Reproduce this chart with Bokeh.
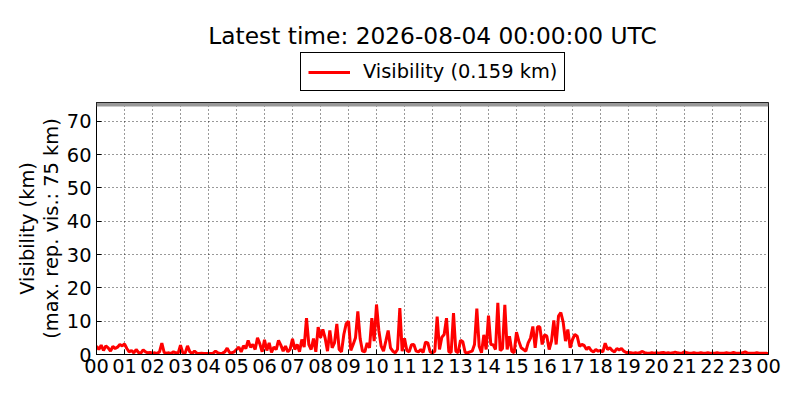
from bokeh.plotting import figure
from bokeh.layouts import column
from bokeh.models import (ColumnDataSource, FixedTicker, Span, Legend, LegendItem,
                          Range1d, Label)
from bokeh.embed import file_html
from bokeh.resources import INLINE

title_text = "Latest time: 2026-08-04 00:00:00 UTC"
series_name = "Visibility (0.159 km)"
y_label = "Visibility (km)\n(max. rep. vis.: 75 km)"
max_rep_vis = 75
x_tick_labels = ["%02d" % (h % 24) for h in range(25)]
y_ticks = [0, 10, 20, 30, 40, 50, 60, 70]

# visibility in km, 5-minute steps, one row per hour (00..23), then last value at 24:00
vis_rows = [
    [2.5, 1.5, 2.8, 1.2, 2.6, 2.0, 1.0, 2.4, 1.8, 2.2, 3.0, 2.6],
    [3.2, 1.8, 0.8, 1.2, 0.5, 1.5, 0.6, 0.4, 1.4, 0.8, 0.5, 0.6],
    [0.4, 0.5, 0.3, 0.8, 3.4, 0.6, 0.4, 0.5, 0.3, 0.8, 0.5, 0.4],
    [2.8, 0.5, 0.4, 2.6, 0.8, 0.3, 1.0, 0.4, 0.3, 0.4, 0.3, 0.3],
    [0.3, 0.3, 0.4, 1.0, 0.5, 0.3, 0.4, 0.8, 1.9, 0.6, 0.5, 0.8],
    [1.5, 2.2, 0.8, 2.6, 1.8, 4.2, 2.2, 3.0, 1.5, 5.0, 3.2, 0.8],
    [4.4, 1.2, 3.5, 0.6, 2.2, 1.5, 4.2, 2.8, 1.0, 2.5, 0.8, 1.6],
    [4.7, 1.5, 3.0, 0.8, 4.5, 2.2, 10.9, 3.0, 1.5, 4.8, 0.8, 8.2],
    [5.0, 7.5, 4.9, 1.0, 7.2, 2.0, 3.5, 9.2, 1.5, 0.8, 6.0, 9.2],
    [10.0, 1.2, 3.0, 5.0, 12.9, 4.7, 1.0, 0.8, 3.5, 2.0, 10.9, 4.0],
    [15.0, 7.2, 2.5, 1.0, 4.0, 7.2, 2.0, 1.0, 0.5, 1.5, 13.9, 1.0],
    [4.9, 1.2, 0.8, 2.9, 3.0, 1.0, 0.8, 1.5, 0.6, 3.7, 3.5, 0.8],
    [0.5, 1.0, 11.4, 1.5, 5.2, 6.0, 10.9, 0.8, 0.6, 12.4, 1.0, 0.5],
    [4.3, 3.8, 0.6, 0.5, 0.8, 1.0, 3.0, 13.8, 2.5, 0.5, 5.9, 1.5],
    [11.7, 3.0, 2.9, 1.5, 15.5, 1.2, 1.8, 14.9, 1.5, 5.5, 1.0, 0.5],
    [6.7, 4.0, 2.0, 1.5, 1.0, 3.5, 4.9, 8.4, 2.0, 8.3, 8.3, 3.0],
    [5.9, 5.5, 1.5, 4.0, 10.2, 3.0, 11.5, 12.6, 9.7, 4.0, 7.5, 2.0],
    [4.5, 6.0, 5.5, 2.5, 3.0, 2.7, 1.5, 2.2, 1.2, 0.8, 1.5, 1.0],
    [1.2, 0.8, 3.4, 1.5, 2.0, 1.2, 0.8, 1.8, 1.4, 1.8, 1.0, 0.6],
    [0.6, 0.5, 0.4, 0.5, 0.4, 0.6, 0.9, 0.5, 0.4, 0.4, 0.5, 0.4],
    [0.5, 0.4, 0.5, 0.6, 0.4, 0.5, 0.4, 0.5, 0.7, 0.5, 0.4, 0.4],
    [0.8, 0.5, 0.4, 0.4, 0.5, 0.4, 0.4, 0.5, 0.4, 0.4, 0.5, 0.4],
    [0.4, 0.4, 0.5, 0.4, 0.4, 0.4, 0.5, 0.4, 0.4, 0.6, 0.4, 0.4],
    [0.4, 0.5, 0.8, 0.4, 0.4, 0.4, 0.4, 0.5, 0.4, 0.4, 0.4, 0.4],
]
last_value = 0.159

vis = [v for row in vis_rows for v in row] + [last_value]
hours = [i * 5 / 60 for i in range(len(vis))]

src = ColumnDataSource(dict(x=hours, y=vis))

FONT = "DejaVu Sans"
LINE_W = 3

# ---- header figure: title and legend ----
head = figure(width=800, height=102, output_backend="svg", toolbar_location=None,
              x_axis_type=None, y_axis_type=None,
              x_range=Range1d(100, 101), y_range=Range1d(0, 1), min_border=0)
head.outline_line_color = None
head.xgrid.visible = False
head.ygrid.visible = False
head_r = head.line("x", "y", source=src, line_color="#ff0000", line_width=LINE_W)
head.add_layout(Label(x=336, y=67, x_units="screen", y_units="screen", text=title_text,
                      text_align="center", text_baseline="alphabetic", text_font=FONT,
                      text_font_size="23.3px", text_color="black"))
legend = Legend(items=[LegendItem(label=series_name, renderers=[head_r])],
                location=(204, 11), orientation="vertical",
                label_text_font=FONT, label_text_font_size="19.4px", label_text_color="black",
                border_line_color="black", border_line_width=1, border_line_alpha=1,
                background_fill_alpha=1, glyph_width=42, glyph_height=22,
                label_standoff=13, padding=7, margin=0, label_height=22)
head.add_layout(legend, "center")

# ---- main figure ----
p = figure(width=800, height=298, output_backend="svg", toolbar_location=None,
           x_range=Range1d(0, 24), y_range=Range1d(0, 75.6),
           min_border_left=96, min_border_right=32, min_border_top=0,
           min_border_bottom=46)
p.background_fill_color = "white"
p.border_fill_color = "white"
p.outline_line_color = "black"
p.outline_line_width = 1

p.line("x", "y", source=src, line_color="#ff0000", line_width=LINE_W)

p.add_layout(Span(location=max_rep_vis, dimension="width", line_color="#999999",
                  line_width=4))

p.xaxis.ticker = FixedTicker(ticks=list(range(25)))
p.xaxis.major_label_overrides = {i: lab for i, lab in enumerate(x_tick_labels)}
p.yaxis.ticker = FixedTicker(ticks=y_ticks)
for ax in (p.xaxis[0], p.yaxis[0]):
    ax.major_label_text_font = FONT
    ax.major_label_text_font_size = "19.4px"
    ax.major_label_text_color = "black"
    ax.axis_line_color = "black"
    ax.major_tick_in = 5
    ax.major_tick_out = 0
    ax.minor_tick_line_color = None
    ax.major_tick_line_color = "black"
p.xaxis.major_label_standoff = 4
p.yaxis.major_label_standoff = 5
p.yaxis.axis_label = y_label
p.yaxis.axis_label_text_font = FONT
p.yaxis.axis_label_text_font_size = "19.4px"
p.yaxis.axis_label_text_font_style = "normal"
p.yaxis.axis_label_text_color = "black"
p.yaxis.axis_label_text_line_height = 1.05
p.yaxis.axis_label_standoff = 1

for g in (p.xgrid[0], p.ygrid[0]):
    g.grid_line_color = "black"
    g.grid_line_alpha = 0.8
    g.grid_line_dash = "1 3"
    g.grid_line_width = 1
p.xgrid.ticker = FixedTicker(ticks=list(range(25)))
p.ygrid.ticker = FixedTicker(ticks=y_ticks)

layout = column(head, p, spacing=0)
open("out.html", "w").write(file_html(layout, INLINE))
